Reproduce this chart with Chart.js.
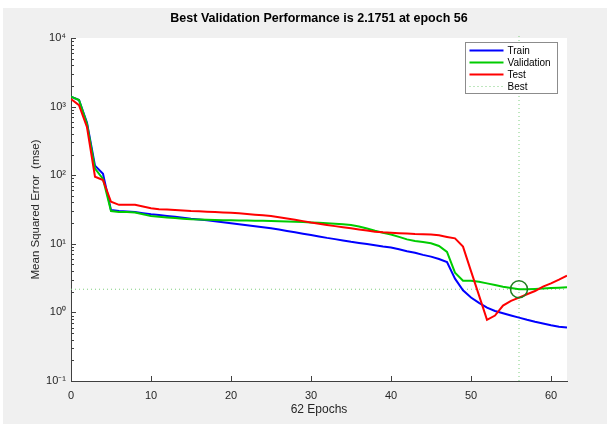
<!DOCTYPE html>
<html><head><meta charset="utf-8">
<script src="https://cdn.jsdelivr.net/npm/chart.js@4.4.1/dist/chart.umd.min.js"></script>
<style>html,body{margin:0;padding:0;background:#fff;}#wrap{width:607px;height:424px;}</style>
</head><body><div id="wrap"><canvas id="c" width="607" height="424"></canvas></div>
<script>
const epochs = [0,1,2,3,4,5,6,7,8,9,10,11,12,13,14,15,16,17,18,19,20,21,22,23,24,25,26,27,28,29,30,31,32,33,34,35,36,37,38,39,40,41,42,43,44,45,46,47,48,49,50,51,52,53,54,55,56,57,58,59,60,61,62];
const trainMse = [1390,1250,580,138,105,31,30,29.5,29,28,27,26.2,25.5,24.8,24,23.2,22.6,22,21.3,20.6,20,19.3,18.6,18,17.4,16.8,16.1,15.4,14.7,14,13.4,12.8,12.2,11.7,11.2,10.7,10.3,9.9,9.5,9.1,8.8,8.3,7.8,7.4,6.9,6.5,6.0,5.4,3.1,2.1,1.65,1.38,1.17,1.05,0.97,0.9,0.84,0.78,0.73,0.69,0.65,0.62,0.6];
const validationMse = [1390,1250,560,125,88,30,29,29,28.5,27,25.5,24.8,24.2,23.7,23.2,22.8,22.6,22.4,22.2,22.1,22,21.9,21.8,21.7,21.6,21.5,21.3,21.1,20.9,20.7,20.4,20.2,19.9,19.6,19.2,18.8,17.9,16.7,15.5,14.5,13.7,12.6,11.6,11.0,10.6,10.2,9.3,7.6,3.8,2.9,2.9,2.8,2.65,2.5,2.37,2.27,2.1751,2.18,2.2,2.23,2.26,2.29,2.32];
const testMse = [1290,1050,500,95,85,41,37,37,37,35,33,32,31.5,31,30.5,30,29.7,29.4,29,28.7,28.4,27.8,27.2,26.6,26,25.4,24.4,23.4,22.4,21.4,20.4,19.6,18.8,18.1,17.4,16.8,16.2,15.6,15.0,14.7,14.5,14.3,14.1,13.9,13.8,13.7,13.3,12.6,12.0,9.1,4.0,1.77,0.78,0.9,1.26,1.47,1.64,1.84,2.05,2.37,2.65,3.0,3.43];
const bestEpoch = 56;
const bestValue = 2.1751;
const xTickValues = [0,10,20,30,40,50,60];
const yTickValues = [0.1,1,10,100,1000,10000];
const yTickLabels = ['10\u207B\u00B9','10\u2070','10\u00B9','10\u00B2','10\u00B3','10\u2074'];
const seriesNames = ['Train','Validation','Test','Best'];
const titleText = 'Best Validation Performance is 2.1751 at epoch 56';
const xTitle = '62 Epochs';
const yTitle = 'Mean Squared Error  (mse)';

const FONT = "'Liberation Sans', Arial, Helvetica, sans-serif";
Chart.defaults.font.family = FONT;
const pts = arr => arr.map((v, i) => ({x: epochs[i], y: v}));
const BEST_COLOR = '#7fcf7f';

const background = {
  id: 'background',
  beforeDraw(chart) {
    const {ctx, width, height, chartArea: a} = chart;
    ctx.save();
    ctx.fillStyle = '#ffffff';
    ctx.fillRect(0, 0, width, height);
    ctx.fillStyle = '#f0f0f0';
    ctx.fillRect(3, 8, width - 3, height - 8);
    ctx.fillStyle = '#ffffff';
    ctx.fillRect(a.left, a.top, a.right - a.left, a.bottom - a.top);
    ctx.restore();
  }
};

const inwardTicks = {
  id: 'inwardTicks',
  afterDatasetsDraw(chart) {
    const {ctx, chartArea: a, scales: {x, y}} = chart;
    ctx.save();
    ctx.strokeStyle = '#404040';
    ctx.lineWidth = 1;
    ctx.beginPath();
    x.ticks.forEach(t => {
      const px = Math.round(x.getPixelForValue(t.value)) + 0.5;
      ctx.moveTo(px, a.bottom); ctx.lineTo(px, a.bottom - 5);
    });
    y.ticks.forEach((t, i) => {
      const py = Math.round(y.getPixelForValue(t.value)) + 0.5;
      ctx.moveTo(a.left, py); ctx.lineTo(a.left + 5, py);
      if (i < y.ticks.length - 1) {
        for (let m = 2; m <= 9; m++) {
          const pm = Math.round(y.getPixelForValue(t.value * m)) + 0.5;
          ctx.moveTo(a.left, pm); ctx.lineTo(a.left + 3, pm);
        }
      }
    });
    ctx.stroke();
    ctx.restore();
  }
};

const boxLegend = {
  id: 'boxLegend',
  afterDraw(chart) {
    const {ctx, chartArea: a} = chart;
    const ds = chart.data.datasets;
    const w = 92, h = 51;
    const left = a.right - 10 - w + 0.5, top = a.top + 4.5;
    ctx.save();
    ctx.fillStyle = '#ffffff';
    ctx.fillRect(left, top, w, h);
    ctx.strokeStyle = '#8c8c8c';
    ctx.lineWidth = 1;
    ctx.strokeRect(left, top, w, h);
    ctx.font = '10px ' + FONT;
    ctx.textBaseline = 'middle';
    ctx.textAlign = 'left';
    for (let i = 0; i < 4; i++) {
      const yy = top + 8 + i * 12;
      ctx.strokeStyle = ds[i].borderColor;
      ctx.lineWidth = ds[i].borderWidth;
      ctx.setLineDash(ds[i].borderDash || []);
      ctx.beginPath();
      ctx.moveTo(left + 4, yy); ctx.lineTo(left + 38, yy);
      ctx.stroke();
      ctx.setLineDash([]);
      ctx.fillStyle = '#000000';
      ctx.fillText(seriesNames[i], left + 42, yy + 0.5);
    }
    ctx.restore();
  }
};

const lineDs = (label, values, color, order) => ({
  label, data: pts(values), borderColor: color, borderWidth: 2,
  pointRadius: 0, tension: 0, fill: false, order
});

new Chart(document.getElementById('c'), {
  type: 'line',
  data: {
    datasets: [
      lineDs(seriesNames[0], trainMse, '#0000ff', 3),
      lineDs(seriesNames[1], validationMse, '#00cc00', 2),
      lineDs(seriesNames[2], testMse, '#ff0000', 1),
      {label: seriesNames[3], data: [{x: epochs[0], y: bestValue}, {x: epochs[epochs.length - 1], y: bestValue}],
       borderColor: BEST_COLOR, borderWidth: 1, borderDash: [1, 3], pointRadius: 0, order: 5},
      {label: 'BestEpoch', data: [{x: bestEpoch, y: yTickValues[0]}, {x: bestEpoch, y: 11500}],
       borderColor: BEST_COLOR, borderWidth: 1, borderDash: [1, 3], pointRadius: 0, clip: false, order: 5},
      {label: 'BestPoint', data: [{x: bestEpoch, y: bestValue}], showLine: false,
       pointRadius: 8.5, pointBorderColor: '#1f7f1f', pointBackgroundColor: 'rgba(0,0,0,0)', pointBorderWidth: 1.5, order: 0}
    ]
  },
  options: {
    responsive: false,
    animation: false,
    layout: {padding: {left: 0, right: 40, top: 0, bottom: 0}},
    plugins: {
      legend: {display: false},
      tooltip: {enabled: false},
      title: {display: true, text: titleText, fullSize: false, color: '#000000',
              font: {size: 12.5, weight: 'bold'}, padding: {top: 11, bottom: 12}}
    },
    scales: {
      x: {
        type: 'linear', min: 0, max: 62,
        afterBuildTicks: s => { s.ticks = xTickValues.map(v => ({value: v})); },
        afterFit: s => { s.height = 43; },
        grid: {display: false, drawTicks: false},
        border: {display: true, color: '#404040', width: 1},
        ticks: {color: '#262626', font: {size: 11}, padding: 8, maxRotation: 0, autoSkip: false},
        title: {display: true, text: xTitle, color: '#262626', font: {size: 12}, padding: {top: 0, bottom: 7}}
      },
      y: {
        type: 'logarithmic', min: 0.1, max: 10000,
        afterBuildTicks: s => { s.ticks = yTickValues.map(v => ({value: v})); },
        afterFit: s => { s.width = 71; },
        grid: {display: false, drawTicks: false},
        border: {display: true, color: '#404040', width: 1},
        ticks: {color: '#262626', font: {size: 11}, padding: 5, autoSkip: false,
                callback: (v, i) => yTickLabels[i]},
        title: {display: true, text: yTitle, color: '#262626', font: {size: 11.5}, padding: {top: 29, bottom: 0}}
      }
    }
  },
  plugins: [background, inwardTicks, boxLegend]
});
</script>
</body></html>
